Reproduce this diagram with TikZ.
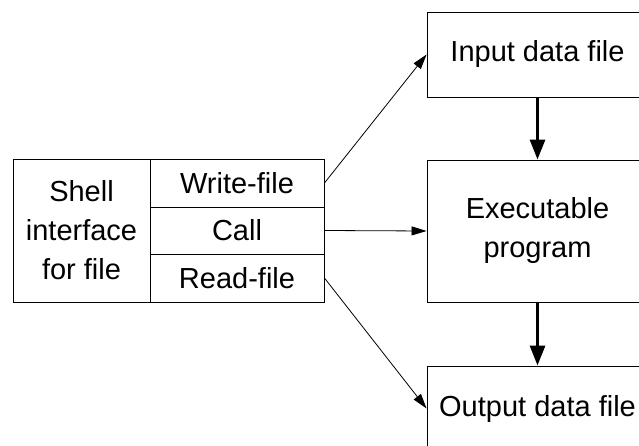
\documentclass[tikz,border=0pt]{standalone}
\usepackage{fontspec}
\setmainfont{Liberation Sans}
\usetikzlibrary{arrows.meta}
\begin{document}
\begin{tikzpicture}[x=1pt,y=-1pt,
  box/.style={draw, line width=0.9pt, inner sep=0pt, align=center,
    font=\fontsize{29}{39}\selectfont},
  thinarrow/.style={line width=0.8pt, -{Triangle[length=15pt,width=9pt]}},
  thickarrow/.style={line width=3pt, -{Triangle[length=20pt,width=15pt]}}]
\useasboundingbox (0,0) rectangle (639,446);
\clip (0,0) rectangle (639,446);
\node[box, minimum width=137pt, minimum height=143pt] (shell) at (81.5,230.5) {Shell\\interface\\for file};
\node[box, minimum width=174pt, minimum height=48pt] (write) at (237,183) {Write-file};
\node[box, minimum width=174pt, minimum height=47pt] (call) at (237,230.5) {Call};
\node[box, minimum width=174pt, minimum height=48pt] (read) at (237,278) {Read-file};
\node[box, minimum width=221pt, minimum height=85pt] (inp) at (537.5,54.5) {Input data file};
\node[box, minimum width=221pt, minimum height=142pt] (exe) at (537.5,231) {Executable\\program};
\node[box, minimum width=221pt, minimum height=85pt] (out) at (537.5,408.5) {Output data file};
\draw[thinarrow] (write.east) -- (inp.west);
\draw[thinarrow] (call.east) -- (exe.west);
\draw[thinarrow] (read.east) -- (out.west);
\draw[thickarrow] (inp.south) -- (exe.north);
\draw[thickarrow] (exe.south) -- (out.north);
\end{tikzpicture}
\end{document}
